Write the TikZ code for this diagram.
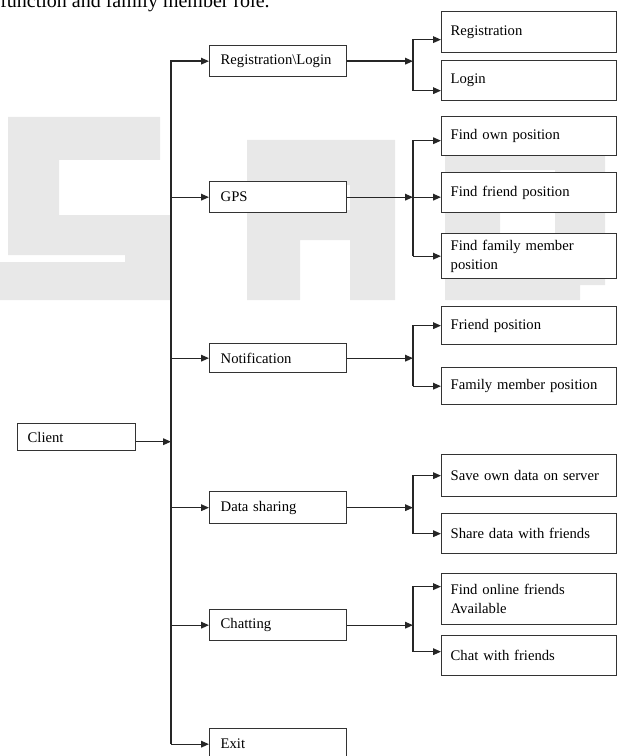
\documentclass[tikz,border=0pt]{standalone}
\usepackage{fontspec}
\setmainfont{Liberation Serif}
\usetikzlibrary{arrows.meta}

\tikzset{
  box/.style={draw=black!80, fill=white, line width=1pt, anchor=north west, align=left,
    font=\fontsize{11}{14}\selectfont},
  midbox/.style={box, minimum width=102.75pt, text width=86.25pt,
    inner xsep=8.25pt, minimum height=23.25pt},
  subbox/.style={box, minimum width=131.25pt, text width=117.75pt,
    inner xsep=6.75pt},
  link/.style={line width=1pt, draw=black!85},
  wmark/.style={fill=black!9},
}

\begin{document}
\begin{tikzpicture}[x=0.75pt, y=-0.75pt, >={Triangle[length=6pt,width=5pt]}]
    \useasboundingbox (0,0) rectangle (619,756);

    % watermark letters, drawn as blocks
    \fill[wmark] (8,117) rectangle (160,160) (8,117) rectangle (59,255)
        (8,215) rectangle (170,255) (125,215) rectangle (170,300) (0,262) rectangle (170,300);
    \fill[wmark] (247,140) rectangle (300,300) (247,140) rectangle (395,185)
        (350,140) rectangle (395,240) (247,210) rectangle (395,240) (350,240) rectangle (395,300);
    \fill[wmark] (445,130) rectangle (500,300) (445,130) rectangle (580,170)
        (445,262) rectangle (580,300) (555,150) rectangle (605,285);

    \node[anchor=base west, inner sep=0pt, font=\fontsize{15}{16}\selectfont] (top) at (0,8) {function and family member role.};

    \node[box, minimum width=88.5pt, text width=73.5pt, inner xsep=7.5pt, minimum height=20.25pt] (client) at (17,423) {Client};

    % second level
    \node[midbox] (rl) at (209,45) {Registration\textbackslash Login};
    \node[midbox] (gps) at (209,181) {GPS};
    \node[midbox, minimum height=21.75pt] (notif) at (209,343) {Notification};
    \node[midbox, minimum height=24pt] (data) at (209,491) {Data sharing};
    \node[midbox] (chat) at (209,609) {Chatting};
    \node[midbox] (exit) at (209,728) {Exit};

    % third level
    \node[subbox, minimum height=30.75pt] (reg) at (441,11) {Registration};
    \node[subbox, minimum height=30pt] (login) at (441,60) {Login};
    \node[subbox, minimum height=29.25pt] (own) at (441,116) {Find own position};
    \node[subbox, minimum height=30pt] (friend) at (441,172) {Find friend position};
    \node[subbox, minimum height=33.75pt] (family) at (441,233) {Find family member\\position};
    \node[subbox, minimum height=28.5pt] (fpos) at (441,306) {Friend position};
    \node[subbox, minimum height=27.75pt] (fampos) at (441,367) {Family member position};
    \node[subbox, minimum height=31.5pt] (save) at (441,454) {Save own data on server};
    \node[subbox, minimum height=30pt] (share) at (441,513) {Share data with friends};
    \node[subbox, minimum height=38.25pt] (online) at (441,573) {Find online friends\\Available};
    \node[subbox, minimum height=30pt] (chatf) at (441,635) {Chat with friends};

    \coordinate (trunk) at (171,0);
    \coordinate (br) at (413,0);

    % client to menu
    \draw[link,->] ([yshift=-3.4pt]client.east) -- ([yshift=-3.4pt]client.east -| trunk);
    \draw[link,->] (exit.west -| trunk) |- (rl.west);
    \foreach \n in {gps,notif,data,chat,exit}
        \draw[link,->] (\n.west -| trunk) -- (\n.west);

    % Registration\Login
    \draw[link,->] (rl.east) -- (rl.east -| br);
    \draw[link,->] ([yshift=-7.5pt]login.west -| br) |- ([yshift=-5.6pt]reg.west);
    \draw[link,->] ([yshift=-7.5pt]login.west -| br) -- ([yshift=-7.5pt]login.west);

    % GPS
    \draw[link,->] (gps.east) -- (gps.east -| br);
    \draw[link,->] (family.west -| br) |- ([yshift=-3.4pt]own.west);
    \draw[link,->] (gps.east -| br) -- (gps.east -| friend.west);
    \draw[link,->] (family.west -| br) -- (family.west);

    % Notification
    \draw[link,->] (notif.east) -- (notif.east -| br);
    \draw[link,->] (fampos.west -| br) |- (fpos.west);
    \draw[link,->] (fampos.west -| br) -- (fampos.west);

    % Data sharing
    \draw[link,->] (data.east) -- (data.east -| br);
    \draw[link,->] (share.west -| br) |- (save.west);
    \draw[link,->] (share.west -| br) -- (share.west);

    % Chatting
    \draw[link,->] (chat.east) -- (chat.east -| br);
    \draw[link,->] ([yshift=3pt]chatf.west -| br) |- ([yshift=9.4pt]online.west);
    \draw[link,->] ([yshift=3pt]chatf.west -| br) -- ([yshift=3pt]chatf.west);
\end{tikzpicture}
\end{document}
